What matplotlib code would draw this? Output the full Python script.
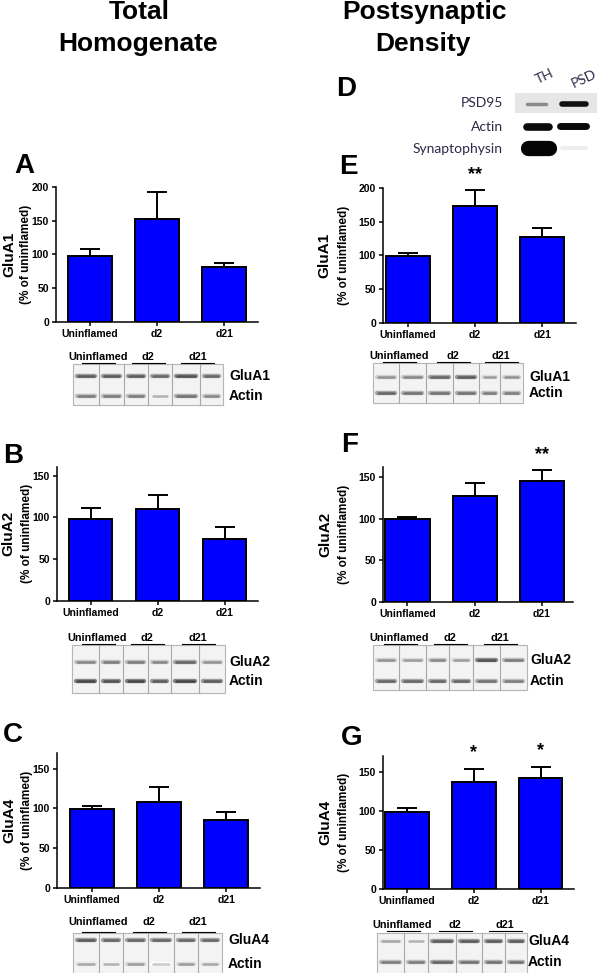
import matplotlib
matplotlib.use("Agg")
import matplotlib.pyplot as plt
from matplotlib.patches import Rectangle

plt.rcParams["font.family"] = ["Liberation Sans", "DejaVu Sans"]

W, H = 600, 973

# data
categories = ["Uninflamed", "d2", "d21"]

th_glua1 = [98, 153, 81]
th_glua1_err = [10, 39, 7]
psd_glua1 = [99, 173, 127]
psd_glua1_err = [5, 24, 14]

th_glua2 = [98, 110, 74]
th_glua2_err = [13, 17, 14]
psd_glua2 = [99, 127, 145]
psd_glua2_err = [3, 16, 13]

th_glua4 = [99, 108, 86]
th_glua4_err = [4, 19, 10]
psd_glua4 = [99, 137, 143]
psd_glua4_err = [5, 17, 13]

# significance marks per bar
psd_glua1_sig = ["", "**", ""]
psd_glua2_sig = ["", "", "**"]
psd_glua4_sig = ["", "*", "*"]

# band darkness per lane (0 = none, 1 = black)
blot_a = [[0.75, 0.75, 0.75, 0.7, 0.8, 0.7], [0.6, 0.6, 0.6, 0.35, 0.65, 0.55]]
blot_e = [[0.5, 0.55, 0.7, 0.75, 0.45, 0.5], [0.7, 0.65, 0.65, 0.65, 0.6, 0.6]]
blot_b = [[0.55, 0.6, 0.6, 0.55, 0.7, 0.5], [0.85, 0.8, 0.85, 0.75, 0.85, 0.75]]
blot_f = [[0.5, 0.45, 0.55, 0.45, 0.8, 0.6], [0.7, 0.7, 0.7, 0.7, 0.65, 0.6]]
blot_c = [[0.75, 0.7, 0.7, 0.7, 0.7, 0.7], [0.4, 0.35, 0.45, 0.25, 0.45, 0.4]]
blot_g = [[0.4, 0.35, 0.75, 0.75, 0.75, 0.75], [0.6, 0.6, 0.7, 0.65, 0.65, 0.65]]

BLUE = "#0000ff"

fig = plt.figure(figsize=(W / 100, H / 100), dpi=100)

# overlay in pixel coords for text and blots
ov = fig.add_axes([0, 0, 1, 1], zorder=0)
ov.set_xlim(0, W)
ov.set_ylim(H, 0)
ov.axis("off")


def px_axes(x0, y0, x1, y1):
    return fig.add_axes([x0 / W, 1 - y1 / H, (x1 - x0) / W, (y1 - y0) / H], zorder=2)


def bar_panel(box, xlim, ylim, yticks, vals, errs, gene, lab_x, sig=None, sig_off=12):
    ax = px_axes(*box)
    x = list(range(len(categories)))
    ax.bar(x, vals, width=0.655, color=BLUE, edgecolor="black", linewidth=1.4, zorder=2)
    ax.errorbar(x, vals, yerr=[[0] * len(errs), errs], fmt="none", ecolor="black",
                elinewidth=1.4, capsize=7.5, capthick=1.4, zorder=1)
    ax.set_xlim(*xlim)
    ax.set_ylim(0, ylim)
    ax.set_yticks(yticks)
    ax.set_xticks(x)
    ax.set_xticklabels(categories, fontsize=7.5, fontweight="bold")
    for t in ax.get_yticklabels():
        t.set_fontsize(7.5)
        t.set_fontweight("bold")
    for s in ["top", "right"]:
        ax.spines[s].set_visible(False)
    for s in ["left", "bottom"]:
        ax.spines[s].set_linewidth(1.1)
    ax.tick_params(direction="out", length=3, width=1.1, pad=2)
    if sig:
        for i, s in enumerate(sig):
            if s:
                ax.annotate(s, (i, vals[i] + errs[i]), xytext=(0, sig_off),
                            textcoords="offset points", ha="center", va="center",
                            fontsize=13, fontweight="bold", annotation_clip=False)
    yc = (box[1] + box[3]) / 2
    ov.text(lab_x[0], yc, gene, rotation=90, ha="center", va="center",
            fontsize=11, fontweight="bold")
    ov.text(lab_x[1], yc, "(% of uninflamed)", rotation=90, ha="center", va="center",
            fontsize=8.5, fontweight="bold")
    return ax


def draw_blot(x0, x1, y0, y1, dividers, row_y, names, intens, label_x, header_y):
    ov.add_patch(Rectangle((x0, y0), x1 - x0, y1 - y0, fc="#f3f3f3", ec="#b5b5b5", lw=0.8))
    for d in dividers:
        ov.plot([d, d], [y0, y1], color="#a8a8a8", lw=0.8)
    edges = [x0] + dividers + [x1]
    for ry, row in zip(row_y, intens):
        for i, v in enumerate(row):
            a, b = edges[i] + 4, edges[i + 1] - 4
            g = 1 - v * 0.85
            ov.plot([a, b], [ry, ry], color=str(min(1, g + 0.25)), lw=3.2, solid_capstyle="round")
            ov.plot([a + 1, b - 1], [ry, ry], color=str(g), lw=1.8, solid_capstyle="round")
    for ry, nm in zip(row_y, names):
        ov.text(label_x, ry, nm, ha="left", va="center", fontsize=10, fontweight="bold")
    centers = [(edges[0] + edges[2]) / 2, (edges[2] + edges[4]) / 2, (edges[4] + edges[6]) / 2]
    for c, nm in zip(centers, categories):
        ov.text(c, header_y, nm, ha="center", va="center", fontsize=7.8, fontweight="bold")
        ov.plot([c - 16, c + 17], [y0 - 1.5, y0 - 1.5], color="black", lw=0.8)


# column headers
ov.text(139, 12, "Total", ha="center", va="center", fontsize=19, fontweight="bold")
ov.text(138, 44, "Homogenate", ha="center", va="center", fontsize=19, fontweight="bold")
ov.text(424, 12, "Postsynaptic", ha="center", va="center", fontsize=19, fontweight="bold")
ov.text(423, 44, "Density", ha="center", va="center", fontsize=19, fontweight="bold")

# panel letters
for letter, lx, ly in [("A", 14, 166), ("B", 3, 456), ("C", 3, 735),
                       ("D", 336, 89), ("E", 339, 167), ("F", 341, 445), ("G", 341, 738)]:
    ov.text(lx, ly, letter, ha="left", va="center", fontsize=20, fontweight="bold")

# bar panels
bar_panel((56, 187, 258, 322), (-0.5, 2.5), 200, [0, 50, 100, 150, 200],
          th_glua1, th_glua1_err, "GluA1", (9, 26))
bar_panel((383, 188, 576, 322.7), (-0.37, 2.5), 200, [0, 50, 100, 150, 200],
          psd_glua1, psd_glua1_err, "GluA1", (324, 344), psd_glua1_sig, 11)
bar_panel((57, 466.7, 258, 600.7), (-0.5, 2.5), 161, [0, 50, 100, 150],
          th_glua2, th_glua2_err, "GluA2", (8, 27))
bar_panel((383, 466.7, 573, 602.3), (-0.364, 2.46), 162, [0, 50, 100, 150],
          psd_glua2, psd_glua2_err, "GluA2", (325, 344), psd_glua2_sig, 11)
bar_panel((57, 753, 260, 887.7), (-0.52, 2.5), 170, [0, 50, 100, 150],
          th_glua4, th_glua4_err, "GluA4", (9, 27))
bar_panel((383, 756, 574, 889.3), (-0.36, 2.5), 170.5, [0, 50, 100, 150],
          psd_glua4, psd_glua4_err, "GluA4", (325, 344), psd_glua4_sig, 12)

# blots
draw_blot(72.7, 222.7, 364, 405, [99, 124, 148, 172, 200], [376, 396],
          ["GluA1", "Actin"], blot_a, 229, 357)
draw_blot(372.7, 522.7, 363, 403, [399, 426, 453, 479, 500], [377, 393],
          ["GluA1", "Actin"], blot_e, 529, 356)
draw_blot(72, 225, 645, 693, [99, 123, 148, 171, 199], [662, 681],
          ["GluA2", "Actin"], blot_b, 229, 638)
draw_blot(373, 527, 645, 690, [399, 426, 449, 473, 500], [660, 681],
          ["GluA2", "Actin"], blot_f, 530, 638)
draw_blot(72.7, 221.7, 933, 976, [99, 123, 148, 174, 198], [940, 964],
          ["GluA4", "Actin"], blot_c, 228, 922)
draw_blot(377, 527, 932.7, 976, [404, 428, 456, 482, 505], [941, 962],
          ["GluA4", "Actin"], blot_g, 528, 925)

# panel D: fraction blot
dcol = "#2a2a48"
ov.add_patch(Rectangle((515, 93), 82, 20, fc="#e6e6e6", ec="none"))
for nm, ry in [("PSD95", 103), ("Actin", 127), ("Synaptophysin", 149)]:
    ov.text(503, ry, nm, ha="right", va="center", fontsize=10, family=["Lato", "DejaVu Sans"], color=dcol)
ov.text(545, 76, "TH", rotation=25, ha="center", va="center", fontsize=10,
        family=["Lato", "DejaVu Sans"], color=dcol)
ov.text(584, 79, "PSD", rotation=25, ha="center", va="center", fontsize=10,
        family=["Lato", "DejaVu Sans"], color=dcol)
ov.plot([527, 546], [104, 104], color="#8a8a8a", lw=2.5, solid_capstyle="round")
ov.plot([562, 586], [104, 104], color="#111111", lw=4, solid_capstyle="round")
ov.plot([527, 549], [127, 127], color="#0a0a0a", lw=5.5, solid_capstyle="round")
ov.plot([560, 586], [126, 126], color="#0a0a0a", lw=5, solid_capstyle="round")
ov.plot([528, 549], [148, 148], color="#050505", lw=11, solid_capstyle="round")
ov.plot([562, 586], [148, 148], color="#eeeeee", lw=3, solid_capstyle="round")

fig.savefig("out.png", dpi=100)
